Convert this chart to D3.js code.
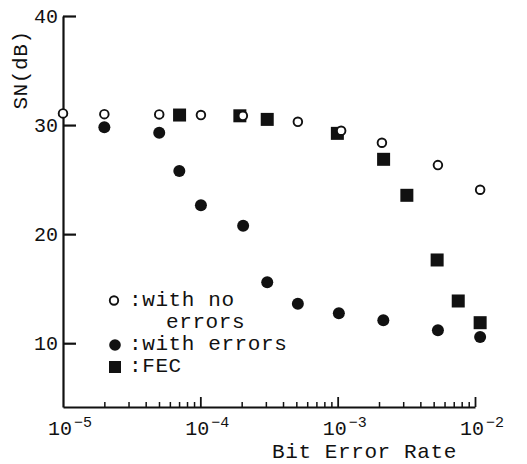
<!DOCTYPE html>
<html>
<head>
<meta charset="utf-8">
<script src="https://cdn.jsdelivr.net/npm/d3@7"></script>
<style>
  body { margin: 0; background: #fff; }
  text { font-family: "Liberation Mono", "Courier New", monospace; fill: #111; }
</style>
</head>
<body>
<svg class="chart"></svg>
<script>
// values (BER, SN in dB)
const noErrBer = [1e-5, 2e-5, 5.02e-5, 1.01e-4, 2.04e-4, 5.13e-4, 1.06e-3, 2.1e-3, 5.37e-3, 1.09e-2];
const noErrSn = [31.07, 31.0, 30.98, 30.92, 30.85, 30.3, 29.48, 28.38, 26.33, 24.07];

const errBer = [2e-5, 5.02e-5, 7.03e-5, 1.01e-4, 2.05e-4, 3.07e-4, 5.13e-4, 1.02e-3, 2.15e-3, 5.37e-3, 1.09e-2];
const errSn = [29.79, 29.29, 25.78, 22.64, 20.77, 15.58, 13.62, 12.74, 12.1, 11.18, 10.57];

const fecBer = [7.06e-5, 1.94e-4, 3.07e-4, 9.95e-4, 2.16e-3, 3.19e-3, 5.3e-3, 7.55e-3, 1.09e-2];
const fecSn = [30.92, 30.85, 30.52, 29.24, 26.86, 23.56, 17.63, 13.87, 11.88];

const xTicks = [1e-5, 1e-4, 1e-3, 1e-2];
const xTickExp = ["5", "4", "3", "2"];
const yTicks = [10, 20, 30, 40];

const width = 527, height = 464;

const svg = d3.select(".chart")
    .attr("width", width)
    .attr("height", height)
    .attr("viewBox", [0, 0, width, height]);

const x = d3.scaleLog().domain([1e-5, 1e-2]).range([63, 475]);
const y = d3.scaleLinear().domain([4.15, 40]).range([407, 16]);

// y axis, ticks pointing inward
svg.append("g")
    .attr("transform", `translate(${x(1e-5)},0)`)
    .call(d3.axisRight(y).tickValues(yTicks).tickSize(13).tickSizeOuter(0).tickFormat(""))
    .call(g => g.select(".domain").attr("stroke", "#111").attr("stroke-width", 2.2))
    .call(g => g.selectAll(".tick line").attr("stroke", "#111").attr("stroke-width", 2.2));

svg.append("g")
    .selectAll("text")
    .data(yTicks)
    .join("text")
    .attr("x", 58)
    .attr("y", d => y(d) + 7)
    .attr("text-anchor", "end")
    .attr("font-size", 20)
    .text(d => d);

// x axis with minor ticks
const minor = [];
for (let e = -5; e < -2; e++) for (let m = 2; m <= 9; m++) minor.push(m * Math.pow(10, e));

svg.append("g")
    .attr("transform", `translate(0,${y(4.15)})`)
    .call(d3.axisTop(x).tickValues(minor).tickSize(5).tickSizeOuter(0).tickFormat(""))
    .call(g => g.select(".domain").attr("stroke", "#111").attr("stroke-width", 2.2))
    .call(g => g.selectAll(".tick line").attr("stroke", "#111").attr("stroke-width", 1.5));

svg.append("g")
    .attr("transform", `translate(0,${y(4.15)})`)
    .call(d3.axisTop(x).tickValues(xTicks.slice(1)).tickSize(10).tickFormat(""))
    .call(g => g.select(".domain").remove())
    .call(g => g.selectAll(".tick line").attr("stroke", "#111").attr("stroke-width", 1.8));

const xl = svg.append("g")
    .selectAll("text")
    .data(xTicks)
    .join("text")
    .attr("x", d => x(d) - 15)
    .attr("y", 435)
    .attr("font-size", 20);
xl.append("tspan").text("10");
xl.append("tspan")
    .attr("dy", -8)
    .attr("dx", 2)
    .attr("font-size", 15)
    .text((d, i) => "\u2212" + xTickExp[i]);

svg.append("text")
    .attr("x", 272)
    .attr("y", 458)
    .attr("font-size", 21)
    .attr("letter-spacing", 0.6)
    .text("Bit Error Rate");

svg.append("text")
    .attr("transform", "translate(27,70) rotate(-90)")
    .attr("text-anchor", "middle")
    .attr("font-size", 21)
    .attr("letter-spacing", 0.6)
    .text("SN(dB)");

// marks
const fecPts = d3.zip(fecBer, fecSn);
svg.append("g")
    .selectAll("rect")
    .data(fecPts)
    .join("rect")
    .attr("x", d => x(d[0]) - 6.5)
    .attr("y", d => y(d[1]) - 6.5)
    .attr("width", 13)
    .attr("height", 13)
    .attr("fill", "#111");

svg.append("g")
    .selectAll("circle")
    .data(d3.zip(errBer, errSn))
    .join("circle")
    .attr("cx", d => x(d[0]))
    .attr("cy", d => y(d[1]))
    .attr("r", 6)
    .attr("fill", "#111");

svg.append("g")
    .selectAll("circle")
    .data(d3.zip(noErrBer, noErrSn))
    .join("circle")
    .attr("cx", d => x(d[0]))
    .attr("cy", d => y(d[1]))
    .attr("r", 4.3)
    .attr("fill", "#fff")
    .attr("stroke", "#111")
    .attr("stroke-width", 1.9);

// legend
const lg = svg.append("g");
lg.append("circle").attr("cx", 114).attr("cy", 300.5).attr("r", 4.2)
    .attr("fill", "#fff").attr("stroke", "#111").attr("stroke-width", 1.9);
lg.append("circle").attr("cx", 115).attr("cy", 345).attr("r", 5.8).attr("fill", "#111");
lg.append("rect").attr("x", 109).attr("y", 361).attr("width", 12).attr("height", 12).attr("fill", "#111");

const legendText = [[":with no", 129, 306], ["errors", 166, 328], [":with errors", 129, 350], [":FEC", 129, 372]];
lg.selectAll("text")
    .data(legendText)
    .join("text")
    .attr("x", d => d[1])
    .attr("y", d => d[2])
    .attr("font-size", 21)
    .attr("letter-spacing", 0.6)
    .text(d => d[0]);
</script>
</body>
</html>
